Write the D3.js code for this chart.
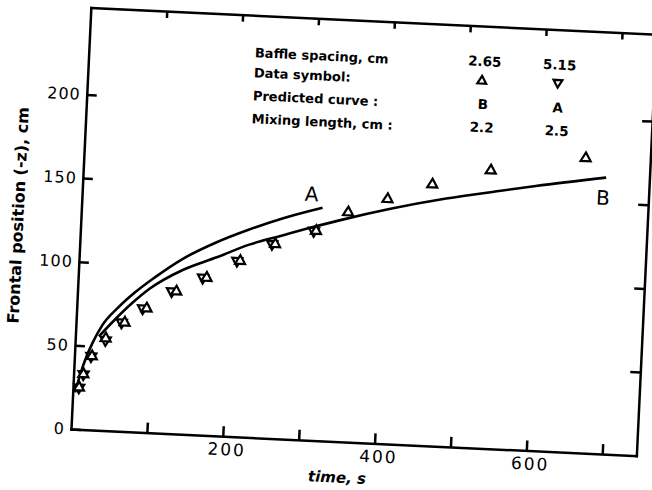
<!DOCTYPE html>
<html>
    <head>
        <meta charset="utf-8" />
        <title>Frontal position</title>
        <style type="text/css">
            body {
                margin: 0;
                background-color: #fff;
            }
            svg {
                background-color: #fff;
                display: block;
            }
            .axis path,
            .axis line {
                stroke: #000;
                stroke-width: 2.5px;
            }
            .axis text {
                fill: #000;
                font-family: "DejaVu Sans", sans-serif;
                font-size: 16px;
                letter-spacing: 1px;
            }
            .curve {
                fill: none;
                stroke: #000;
                stroke-width: 2.6px;
            }
            .sym {
                fill: #fff;
                stroke: #000;
                stroke-width: 2.2px;
            }
            .lbl {
                font-family: "DejaVu Sans", sans-serif;
                fill: #000;
            }
        </style>
        <script src="https://d3js.org/d3.v7.min.js"></script>
    </head>
    <body>
        <div id="chart"></div>
        <script type="text/javascript">
            // baffle spacing 2.65 cm (up triangles)
            var timeUp = [8, 13, 23, 40, 64, 92, 130, 169, 212, 257, 310, 351, 402, 460, 536, 660];
            var posUp = [25, 33, 44, 55, 65, 74, 85, 94, 105, 116, 125, 137, 146, 156, 166, 176];
            // baffle spacing 5.15 cm (down triangles)
            var timeDown = [8, 13, 22, 40, 60, 87, 124, 164, 208, 253, 307];
            var posDown = [25, 33, 44, 54, 65, 74, 85, 94, 105, 116, 125];
            // predicted curves
            var curveATime = [3, 10, 15, 23, 35, 55, 75, 100, 136, 180, 222, 265, 317];
            var curveAPos = [22, 35, 42.5, 52, 63, 74, 83, 92.5, 104.5, 115.5, 124, 131.5, 139];
            var curveBTime = [31, 48, 73, 95, 137, 181, 223, 266, 297, 340, 408, 479, 548, 596, 688];
            var curveBPos = [56, 65, 77, 86, 98, 106.5, 115, 121.4, 126, 132, 140.5, 148, 154, 158, 165];
            var curveNames = ["A", "B"];
            var curveLabelTime = [302, 685];
            var curveLabelPos = [147, 153];

            var xTicks = [100, 200, 300, 400, 500, 600, 700];
            var xLabels = [200, 400, 600];
            var yTicks = [0, 50, 100, 150, 200];

            var legendLabels = ["Baffle spacing, cm", "Data symbol:", "Predicted curve :", "Mixing length, cm :"];
            var spacingVals = ["2.65", "5.15"];
            var curveVals = ["B", "A"];
            var mixingVals = ["2.2", "2.5"];

            var width = 652,
                height = 490,
                W = 566,
                H = 422,
                angle = 2.7;

            var svg = d3
                .select("#chart")
                .append("svg")
                .attr("width", width)
                .attr("height", height);

            var x = d3.scaleLinear().domain([0, 745]).range([0, W]);
            var y = d3.scaleLinear().domain([0, 252]).range([H, 0]);

            // the scanned figure is tilted a little, so the whole plot is rotated
            var g = svg
                .append("g")
                .attr("transform", "translate(71,429) rotate(" + angle + ") translate(0," + -H + ")");

            g.append("g")
                .attr("class", "axis")
                .attr("transform", "translate(0," + H + ")")
                .call(
                    d3.axisBottom(x)
                        .tickValues(xTicks)
                        .tickSizeInner(-10)
                        .tickSizeOuter(0)
                        .tickPadding(7)
                        .tickFormat(function (d) {
                            return xLabels.indexOf(d) >= 0 ? d : "";
                        })
                )
                .selectAll("text")
                .attr("x", 4)
                .style("font-size", "17px")
                .style("letter-spacing", "2px");

            g.append("g")
                .attr("class", "axis")
                .call(d3.axisTop(x).tickValues(xTicks).tickSizeInner(-7).tickSizeOuter(0).tickFormat(""));

            g.append("g")
                .attr("class", "axis")
                .call(
                    d3.axisLeft(y)
                        .tickValues(yTicks)
                        .tickSizeInner(-10)
                        .tickSizeOuter(0)
                        .tickPadding(6)
                );

            g.append("g")
                .attr("class", "axis")
                .attr("transform", "translate(" + W + ",0)")
                .call(d3.axisRight(y).tickValues(yTicks.slice(1)).tickSizeInner(-10).tickSizeOuter(0).tickFormat(""));

            g.selectAll(".axis .domain").attr("stroke-linecap", "square");

            var line = d3
                .line()
                .x(function (d) { return x(d[0]); })
                .y(function (d) { return y(d[1]); })
                .curve(d3.curveMonotoneX);

            g.append("path")
                .attr("class", "curve")
                .attr("d", line(d3.zip(curveATime, curveAPos)));
            g.append("path")
                .attr("class", "curve")
                .attr("d", line(d3.zip(curveBTime, curveBPos)));

            g.selectAll(".clabel")
                .data(curveNames)
                .enter()
                .append("text")
                .attr("class", "lbl clabel")
                .attr("x", function (d, i) { return x(curveLabelTime[i]); })
                .attr("y", function (d, i) { return y(curveLabelPos[i]); })
                .attr("text-anchor", "middle")
                .attr("dy", "0.36em")
                .style("font-size", "20px")
                .text(function (d) { return d; });

            var tri = d3.symbol().type(d3.symbolTriangle).size(44);

            g.selectAll(".down")
                .data(d3.zip(timeDown, posDown))
                .enter()
                .append("path")
                .attr("class", "sym down")
                .attr("d", tri)
                .attr("transform", function (d) {
                    return "translate(" + x(d[0]) + "," + y(d[1]) + ") rotate(180)";
                });

            g.selectAll(".up")
                .data(d3.zip(timeUp, posUp))
                .enter()
                .append("path")
                .attr("class", "sym up")
                .attr("d", tri)
                .attr("transform", function (d) {
                    return "translate(" + x(d[0]) + "," + y(d[1]) + ")";
                });

            // axis titles
            g.append("text")
                .attr("class", "lbl")
                .attr("transform", "translate(-63," + H / 2 + ") rotate(-90)")
                .attr("text-anchor", "middle")
                .attr("dy", "0.35em")
                .style("font-size", "16px")
                .style("font-weight", "bold")
                .text("Frontal position (-z), cm");

            g.append("text")
                .attr("class", "lbl")
                .attr("x", 268)
                .attr("y", H + 41)
                .attr("text-anchor", "middle")
                .style("font-size", "15px")
                .style("font-weight", "bold")
                .style("font-style", "italic")
                .text("time, s");

            // legend table
            var rowY = [0, 20, 43, 66];
            var col1 = 230,
                col2 = 305;
            var leg = g.append("g").attr("transform", "translate(166," + (H - 380) + ")");

            leg.selectAll(".row")
                .data(legendLabels)
                .enter()
                .append("text")
                .attr("class", "lbl row")
                .attr("x", 0)
                .attr("y", function (d, i) { return rowY[i]; })
                .style("font-size", "13px")
                .style("font-weight", "bold")
                .text(function (d) { return d; });

            var cells = [spacingVals, null, curveVals, mixingVals];
            cells.forEach(function (vals, r) {
                if (!vals) return;
                leg.selectAll(".c" + r)
                    .data(vals)
                    .enter()
                    .append("text")
                    .attr("class", "lbl c" + r)
                    .attr("x", function (d, i) { return i == 0 ? col1 : col2; })
                    .attr("y", rowY[r] - 2)
                    .attr("text-anchor", "middle")
                    .style("font-size", "13.5px")
                    .style("font-weight", "bold")
                    .text(function (d) { return d; });
            });

            var legTri = d3.symbol().type(d3.symbolTriangle).size(34);
            leg.append("path")
                .attr("class", "sym")
                .attr("d", legTri)
                .attr("transform", "translate(" + (col1 - 2) + "," + (rowY[1] - 7) + ")");
            leg.append("path")
                .attr("class", "sym")
                .attr("d", legTri)
                .attr("transform", "translate(" + (col2 - 1) + "," + (rowY[1] - 9) + ") rotate(180)");
        </script>
    </body>
</html>
